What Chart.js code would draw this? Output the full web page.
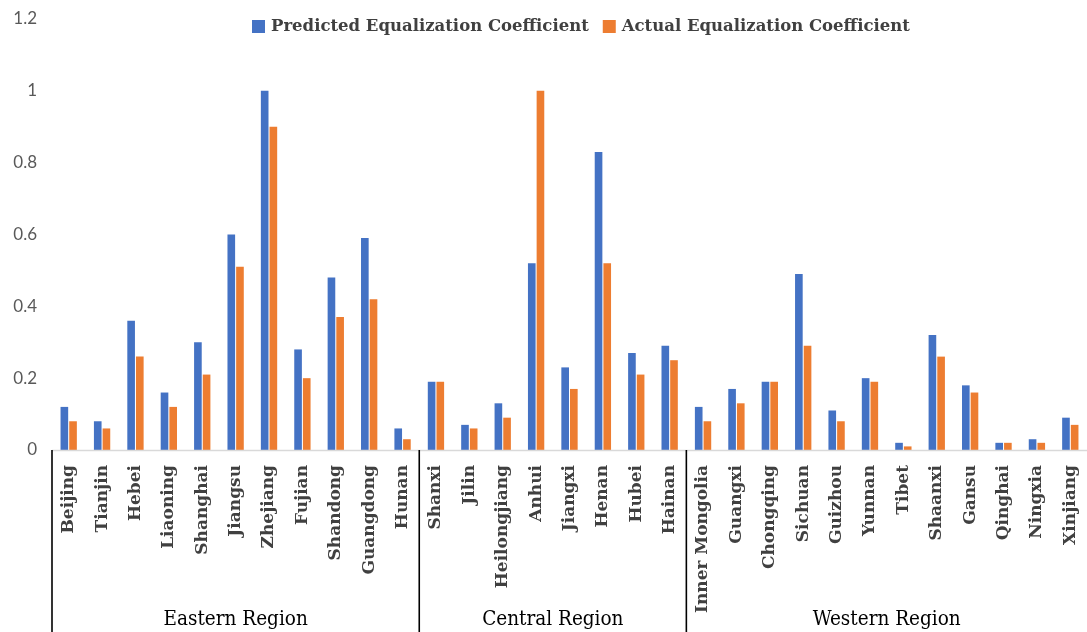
<!DOCTYPE html>
<html>
<head>
<meta charset="utf-8">
<script src="https://cdn.jsdelivr.net/npm/chart.js@4.4.1/dist/chart.umd.min.js"></script>
<style>
  html, body { margin: 0; padding: 0; background: #ffffff; overflow: hidden; }
  #wrap { width: 1087px; height: 632px; position: relative; }
</style>
</head>
<body>
<div id="wrap"><canvas id="c"></canvas></div>
<script>
const categories = ['Beijing','Tianjin','Hebei','Liaoning','Shanghai','Jiangsu','Zhejiang','Fujian','Shandong','Guangdong','Hunan',
  'Shanxi','Jilin','Heilongjiang','Anhui','Jiangxi','Henan','Hubei','Hainan',
  'Inner Mongolia','Guangxi','Chongqing','Sichuan','Guizhou','Yunnan','Tibet','Shaanxi','Gansu','Qinghai','Ningxia','Xinjiang'];
const predicted = [0.12,0.08,0.36,0.16,0.30,0.60,1.00,0.28,0.48,0.59,0.06,
  0.19,0.07,0.13,0.52,0.23,0.83,0.27,0.29,
  0.12,0.17,0.19,0.49,0.11,0.20,0.02,0.32,0.18,0.02,0.03,0.09];
const actual = [0.08,0.06,0.26,0.12,0.21,0.51,0.90,0.20,0.37,0.42,0.03,
  0.19,0.06,0.09,1.00,0.17,0.52,0.21,0.25,
  0.08,0.13,0.19,0.29,0.08,0.19,0.01,0.26,0.16,0.02,0.02,0.07];
const seriesNames = ['Predicted Equalization Coefficient','Actual Equalization Coefficient'];
const seriesColors = ['#4472C4','#ED7D31'];
const regions = ['Eastern Region','Central Region','Western Region'];
const regionSizes = [11, 8, 12];
const yMin = 0, yMax = 1.2, yStep = 0.2;

const decorPlugin = {
  id: 'decor',
  afterDraw(chart) {
    const ctx = chart.ctx;
    const area = chart.chartArea;
    const xs = chart.scales.x;
    const step = xs.getPixelForValue(1) - xs.getPixelForValue(0);
    ctx.save();
    // baseline
    ctx.strokeStyle = '#d9d9d9';
    ctx.lineWidth = 1.5;
    ctx.beginPath();
    ctx.moveTo(area.left, area.bottom + 0.5);
    ctx.lineTo(chart.width, area.bottom + 0.5);
    ctx.stroke();
    // separators & region labels
    let start = 0;
    ctx.strokeStyle = '#000000';
    ctx.lineWidth = 1.6;
    ctx.fillStyle = '#000000';
    ctx.font = '20.5px "DejaVu Serif Condensed", "DejaVu Serif", serif';
    ctx.textAlign = 'center';
    ctx.textBaseline = 'middle';
    regionSizes.forEach((n, i) => {
      const x0 = xs.getPixelForValue(start) - step / 2;
      const x1 = xs.getPixelForValue(start + n - 1) + step / 2;
      ctx.beginPath();
      ctx.moveTo(x0, area.bottom);
      ctx.lineTo(x0, chart.height);
      ctx.stroke();
      ctx.fillText(regions[i], (x0 + x1) / 2, 620);
      start += n;
    });
    // legend
    ctx.font = 'bold 16.5px "DejaVu Serif", serif';
    ctx.textAlign = 'left';
    ctx.textBaseline = 'middle';
    let lx = 252;
    const ly = 27;
    seriesNames.forEach((name, i) => {
      ctx.fillStyle = seriesColors[i];
      ctx.fillRect(lx, ly - 7, 13, 13);
      ctx.fillStyle = '#404040';
      ctx.fillText(name, lx + 19, ly);
      lx += 19 + ctx.measureText(name).width + 14;
    });
    ctx.restore();
  }
};

new Chart(document.getElementById('c'), {
  type: 'bar',
  data: {
    labels: categories,
    datasets: [
      { label: seriesNames[0], data: predicted, backgroundColor: seriesColors[0], categoryPercentage: 0.52, barPercentage: 0.88 },
      { label: seriesNames[1], data: actual, backgroundColor: seriesColors[1], categoryPercentage: 0.52, barPercentage: 0.88 }
    ]
  },
  options: {
    responsive: true,
    maintainAspectRatio: false,
    animation: false,
    layout: { padding: { top: 19, left: 0, right: -2, bottom: 0 } },
    plugins: { legend: { display: false }, tooltip: { enabled: false } },
    scales: {
      x: {
        grid: { display: false, drawTicks: false },
        border: { display: false },
        ticks: {
          autoSkip: false, minRotation: 90, maxRotation: 90, padding: 15,
          color: '#404040',
          font: { family: '"DejaVu Serif", serif', size: 17, weight: 'bold' }
        },
        afterFit(scale) { scale.height = 182; scale.paddingLeft = 0; scale.paddingRight = 0; }
      },
      y: {
        min: yMin, max: yMax,
        grid: { display: false, drawTicks: false },
        border: { display: false },
        ticks: {
          stepSize: yStep, padding: 15, color: '#595959',
          font: { family: 'Lato, "Open Sans", sans-serif', size: 17 },
          callback: v => String(Math.round(v * 10) / 10)
        },
        afterFit(scale) { scale.width = 52; scale.paddingTop = 0; scale.paddingBottom = 0; }
      }
    }
  },
  plugins: [decorPlugin]
});
</script>
</body>
</html>
